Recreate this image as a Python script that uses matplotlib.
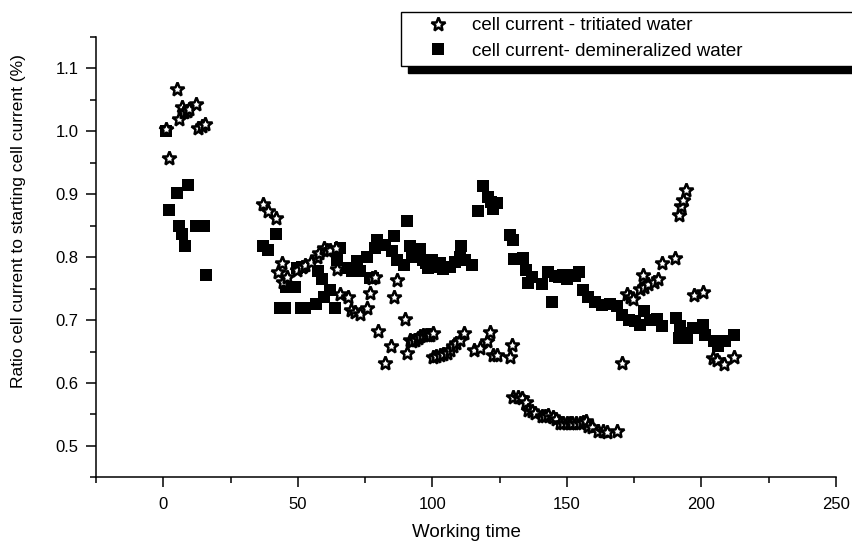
import numpy as np
import matplotlib
matplotlib.use("Agg")
import matplotlib.pyplot as plt
from matplotlib.ticker import MultipleLocator, FormatStrFormatter

plt.rcParams['font.family'] = ['Liberation Sans', 'DejaVu Sans']

# tritiated water (stars): working time, ratio
trit_t = [1.0, 2.1, 5.0, 6.0, 6.8, 7.6, 8.7, 9.5, 12.0, 13.0, 14.3, 15.5,
          36.9, 39.0, 42.0, 42.8, 44.0, 44.6, 45.9, 49.6, 51.5, 52.7, 55.0,
          57.0, 58.0, 59.9, 61.0, 62.0, 64.2, 64.5, 65.7, 68.8, 69.7, 71.4,
          73.1, 75.6, 76.8, 77.5, 78.7, 79.9, 82.4, 84.5, 85.8, 86.8, 89.8,
          90.5, 91.7, 92.5, 93.5, 94.5, 95.4, 96.5, 97.5, 98.5, 99.1, 100.3,
          100.4, 101.5, 102.9, 104.0, 105.3, 106.5, 107.8, 108.8, 110.3, 111.6,
          115.3, 117.7, 120.2, 121.4, 122.7, 123.9, 128.7, 129.5, 130.1, 132.0,
          133.2, 134.8, 135.7, 136.9, 138.0, 140.7, 142.0, 143.1, 145.0, 146.0,
          147.5, 148.7, 150.0, 151.0, 151.9, 153.5, 154.9, 156.0, 157.1, 158.0,
          159.5, 161.7, 163.5, 165.0, 168.5, 170.4, 172.5, 173.5, 174.5, 177.2,
          178.4, 178.7, 180.3, 182.2, 184.0, 185.5, 190.2, 191.5, 192.3, 193.3,
          194.3, 197.3, 200.5, 204.2, 205.7, 208.2, 212.2]
trit_r = [1.003, 0.958, 1.067, 1.020, 1.038, 1.030, 1.032, 1.036, 1.043, 1.005, 1.008, 1.011,
          0.884, 0.873, 0.862, 0.776, 0.790, 0.761, 0.768, 0.780, 0.784, 0.788, 0.792,
          0.800, 0.807, 0.814, 0.812, 0.812, 0.815, 0.781, 0.741, 0.737, 0.716, 0.713,
          0.710, 0.719, 0.743, 0.767, 0.768, 0.682, 0.632, 0.658, 0.736, 0.763, 0.701,
          0.647, 0.669, 0.667, 0.668, 0.672, 0.675, 0.676, 0.677, 0.676, 0.677, 0.680,
          0.642, 0.643, 0.645, 0.646, 0.648, 0.652, 0.658, 0.663, 0.669, 0.679,
          0.653, 0.655, 0.666, 0.681, 0.645, 0.644, 0.642, 0.661, 0.578, 0.577,
          0.576, 0.569, 0.557, 0.555, 0.552, 0.547, 0.548, 0.549, 0.546, 0.543,
          0.537, 0.537, 0.537, 0.536, 0.536, 0.536, 0.536, 0.538, 0.539, 0.531,
          0.530, 0.523, 0.524, 0.522, 0.523, 0.632, 0.742, 0.736, 0.733, 0.749,
          0.772, 0.753, 0.758, 0.761, 0.765, 0.790, 0.799, 0.867, 0.881, 0.891,
          0.906, 0.740, 0.744, 0.640, 0.637, 0.630, 0.641]

# demineralized water (squares)
demin_t = [1.0, 2.1, 5.1, 6.0, 7.1, 8.1, 9.1, 12.2, 13.5, 15.1, 15.9,
           37.0, 39.1, 41.9, 43.5, 45.3, 45.5, 47.5, 49.0, 49.6, 51.2, 51.5, 52.8,
           56.8, 57.6, 58.9, 59.9, 62.0, 63.8, 64.7, 65.7, 68.8, 70.0, 71.9, 73.1,
           75.6, 76.8, 78.0, 78.7, 79.6, 82.4, 84.9, 85.8, 86.8, 89.5, 90.7, 91.7,
           92.3, 93.5, 95.4, 96.7, 97.5, 98.5, 99.8, 101.0, 102.9, 104.1, 106.6,
           108.4, 110.1, 110.6, 112.2, 114.6, 116.8, 118.7, 120.6, 121.7, 122.7,
           123.9, 128.9, 129.8, 130.5, 133.6, 134.7, 135.7, 137.0, 140.7, 142.8,
           144.4, 145.5, 147.0, 148.5, 150.0, 151.5, 153.0, 154.6, 156.1, 158.0,
           160.5, 163.0, 166.0, 168.6, 170.4, 172.9, 175.4, 177.2, 178.7, 180.7,
           183.6, 185.3, 190.6, 191.5, 192.1, 193.9, 194.6, 197.0, 200.5, 201.4,
           204.5, 206.3, 208.8, 212.2]
demin_r = [1.000, 0.875, 0.902, 0.850, 0.837, 0.817, 0.915, 0.850, 0.850, 0.850, 0.771,
           0.817, 0.811, 0.837, 0.719, 0.719, 0.752, 0.752, 0.752, 0.783, 0.719, 0.785, 0.719,
           0.726, 0.778, 0.765, 0.737, 0.748, 0.719, 0.795, 0.814, 0.783, 0.778, 0.794, 0.778,
           0.800, 0.767, 0.767, 0.814, 0.827, 0.820, 0.809, 0.833, 0.796, 0.788, 0.858, 0.817,
           0.806, 0.800, 0.813, 0.796, 0.790, 0.783, 0.796, 0.785, 0.791, 0.781, 0.785,
           0.793, 0.801, 0.817, 0.796, 0.788, 0.874, 0.913, 0.896, 0.888, 0.876,
           0.886, 0.836, 0.827, 0.797, 0.798, 0.780, 0.759, 0.769, 0.758, 0.777,
           0.729, 0.770, 0.768, 0.772, 0.765, 0.771, 0.770, 0.776, 0.747, 0.737,
           0.729, 0.724, 0.725, 0.722, 0.708, 0.700, 0.698, 0.692, 0.714, 0.700,
           0.701, 0.691, 0.703, 0.671, 0.690, 0.679, 0.671, 0.687, 0.692, 0.677,
           0.666, 0.658, 0.666, 0.677]

fig = plt.figure(figsize=(8.53, 5.46), dpi=100)
ax = fig.add_axes([96 / 853, 68.7 / 546, 740 / 853, 440.3 / 546])

ax.plot(demin_t, demin_r, 's', color='black', markersize=8, markeredgewidth=0,
        label='cell current- demineralized water', zorder=2)
ax.plot(trit_t, trit_r, '*', markerfacecolor='white', markeredgecolor='black',
        markersize=10.5, markeredgewidth=1.8, label='cell current - tritiated water', zorder=3)

ax.set_xlim(-25, 250)
ax.set_ylim(0.45, 1.15)
ax.xaxis.set_minor_locator(MultipleLocator(25))
ax.yaxis.set_major_locator(MultipleLocator(0.1))
ax.yaxis.set_minor_locator(MultipleLocator(0.05))
ax.yaxis.set_major_formatter(FormatStrFormatter('%.1f'))
ax.set_xticks([0, 50, 100, 150, 200, 250])

for s in ['top', 'right']:
    ax.spines[s].set_visible(False)
for s in ['left', 'bottom']:
    ax.spines[s].set_linewidth(1.1)
ax.tick_params(which='major', direction='out', length=7.5, width=1.1, labelsize=12)
ax.tick_params(which='minor', direction='out', length=4, width=1.1)
ax.tick_params(axis='x', which='major', pad=7)
ax.tick_params(axis='y', which='major', pad=5)

ax.set_xlabel('Working time', fontsize=13.5, labelpad=8)
ax.set_ylabel('Ratio cell current to starting cell current (%)', fontsize=12.5)
ax.yaxis.set_label_coords(-0.0946, 0.581)

h, l = ax.get_legend_handles_labels()
leg = ax.legend(h[::-1], l[::-1], loc='upper left',
                bbox_to_anchor=(400.7 / 853, 1 - 11.7 / 546, 0.6, 0.0),
                bbox_transform=fig.transFigure, mode='expand', borderaxespad=0,
                fontsize=13.5, fancybox=False, framealpha=1, edgecolor='black',
                borderpad=0.3, handlelength=3.4, handletextpad=0.1, labelspacing=0.45,
                shadow={'ox': 5.5, 'oy': -5.5, 'color': 'black', 'alpha': 1})
leg.get_frame().set_linewidth(1.0)

fig.savefig('out.png', dpi=100)
